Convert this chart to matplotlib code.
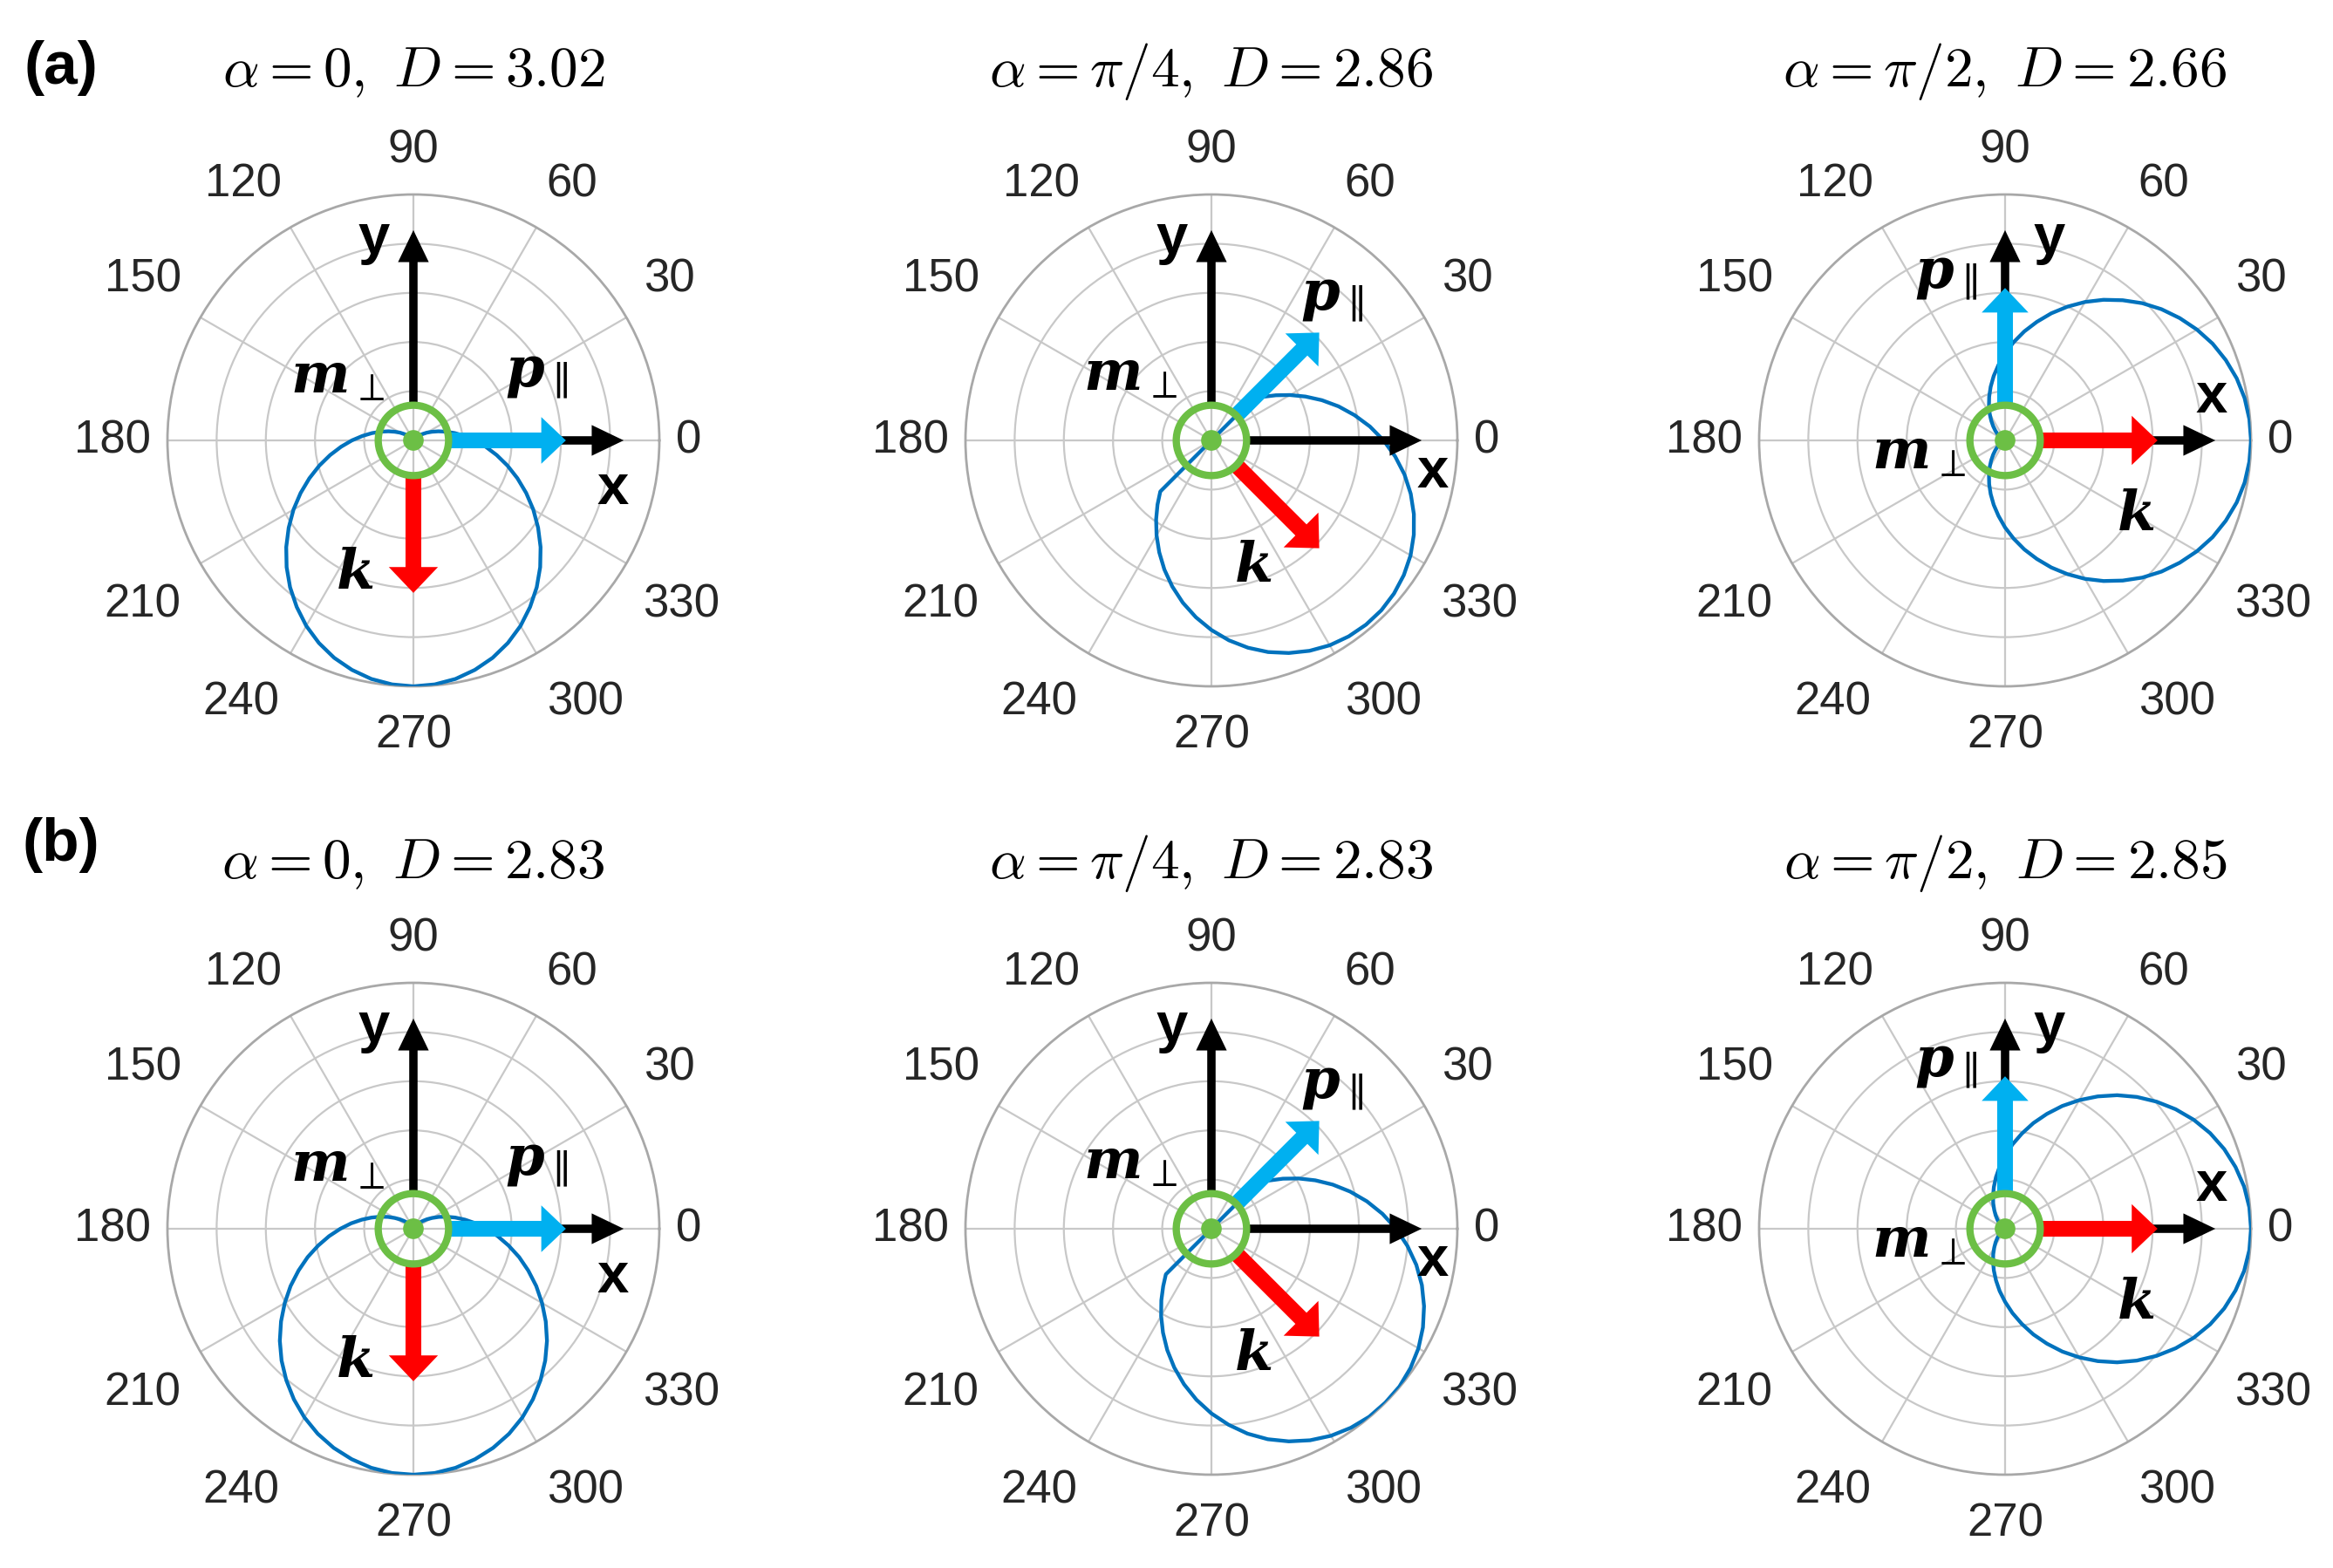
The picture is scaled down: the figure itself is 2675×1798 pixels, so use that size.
import numpy as np
import matplotlib
matplotlib.use("Agg")
import matplotlib.pyplot as plt
from matplotlib.patches import FancyArrow, Circle

plt.rcParams['mathtext.fontset'] = 'custom'
plt.rcParams['mathtext.it'] = 'DejaVu Serif:italic:bold'
plt.rcParams['mathtext.rm'] = 'DejaVu Serif'
plt.rcParams['mathtext.bf'] = 'DejaVu Serif:bold'

# ---------------- data ----------------
theta_deg = np.arange(0, 360, 5)

r_a1 = [0.250, 0.208, 0.171, 0.137, 0.108, 0.083, 0.063, 0.045, 0.032, 0.021, 0.014, 0.008, 0.004, 0.002, 0.001,
        0, 0, 0, 0, 0, 0, 0,
        0.001, 0.002, 0.004, 0.008, 0.014, 0.021, 0.032, 0.045, 0.063, 0.083, 0.108, 0.137, 0.171, 0.208,
        0.250, 0.295, 0.344, 0.396, 0.450, 0.506, 0.563, 0.619, 0.675, 0.729, 0.780, 0.827, 0.871, 0.909, 0.941,
        0.966, 0.985, 0.996,
        1.0,
        0.996, 0.985, 0.966, 0.941, 0.909, 0.871, 0.827, 0.780, 0.729, 0.675, 0.619, 0.563, 0.506, 0.450, 0.396,
        0.344, 0.295]

r_a2 = [0.700, 0.647, 0.591, 0.535, 0.478, 0.422, 0.369, 0.320, 0.276, 0.238,
        0, 0, 0, 0, 0, 0, 0, 0, 0, 0, 0, 0, 0, 0, 0, 0, 0, 0, 0, 0, 0, 0, 0, 0, 0, 0, 0, 0, 0, 0, 0, 0, 0, 0, 0,
        0.294, 0.341, 0.392, 0.446, 0.502, 0.559, 0.615, 0.670, 0.722, 0.771, 0.816, 0.856, 0.891, 0.920,
        0.944, 0.962, 0.973, 0.978, 0.977, 0.969, 0.955, 0.935, 0.908, 0.876, 0.839, 0.797, 0.750]

r_a3 = [1.0, 0.997, 0.989, 0.975, 0.955, 0.931, 0.901, 0.867, 0.830, 0.789, 0.744, 0.698, 0.650, 0.600, 0.550,
        0.499, 0.450, 0.401, 0.354, 0.308, 0.266, 0.226, 0.189, 0.155, 0.125, 0.098, 0.075, 0.056, 0.040, 0.027,
        0.017, 0.010, 0.005, 0.002, 0.001, 0, 0,
        0, 0.001, 0.002, 0.005, 0.010, 0.017, 0.027, 0.040, 0.056, 0.075, 0.098, 0.125, 0.155, 0.189, 0.226,
        0.266, 0.308, 0.354, 0.401, 0.450, 0.499, 0.550, 0.600, 0.650, 0.698, 0.744, 0.789, 0.830, 0.867, 0.901,
        0.931, 0.955, 0.975, 0.989, 0.997]

r_b1 = [0.297, 0.254, 0.213, 0.176, 0.143, 0.114, 0.088, 0.067, 0.049, 0.035, 0.023, 0.015, 0.009, 0.005, 0.002, 0.001,
        0, 0, 0, 0, 0,
        0.001, 0.002, 0.005, 0.009, 0.015, 0.023, 0.035, 0.049, 0.067, 0.088, 0.114, 0.143, 0.176, 0.213, 0.254,
        0.297, 0.344, 0.393, 0.445, 0.497, 0.551, 0.604, 0.657, 0.709, 0.758, 0.804, 0.847, 0.886, 0.920, 0.948,
        0.970, 0.987, 0.997,
        1.0,
        0.997, 0.987, 0.970, 0.948, 0.920, 0.886, 0.847, 0.804, 0.758, 0.709, 0.657, 0.604, 0.551, 0.497, 0.445,
        0.393, 0.344]

r_b2 = [0.751, 0.698, 0.642, 0.584, 0.525, 0.466, 0.409, 0.355, 0.305, 0.262,
        0, 0, 0, 0, 0, 0, 0, 0, 0, 0, 0, 0, 0, 0, 0, 0, 0, 0, 0, 0, 0, 0, 0, 0, 0, 0, 0, 0, 0, 0, 0, 0, 0, 0, 0,
        0.262, 0.305, 0.355, 0.409, 0.466, 0.525, 0.584, 0.642, 0.698, 0.751, 0.800, 0.846, 0.886, 0.920,
        0.949, 0.972, 0.988, 0.998, 1.0, 0.998, 0.988, 0.972, 0.949, 0.920, 0.886, 0.846, 0.800]

r_b3 = [1.0, 0.997, 0.987, 0.970, 0.948, 0.920, 0.886, 0.847, 0.804, 0.758, 0.709, 0.657, 0.604, 0.551, 0.497,
        0.445, 0.393, 0.344, 0.297, 0.254, 0.213, 0.176, 0.143, 0.114, 0.088, 0.067, 0.049, 0.035, 0.023, 0.015,
        0.009, 0.005, 0.002, 0.001, 0, 0, 0,
        0, 0, 0.001, 0.002, 0.005, 0.009, 0.015, 0.023, 0.035, 0.049, 0.067, 0.088, 0.114, 0.143, 0.176, 0.213,
        0.254, 0.297, 0.344, 0.393, 0.445, 0.497, 0.551, 0.604, 0.657, 0.709, 0.758, 0.804, 0.847, 0.886, 0.920,
        0.948, 0.970, 0.987, 0.997]

patterns = [[r_a1, r_a2, r_a3], [r_b1, r_b2, r_b3]]
alpha_labels = [r'0', r'\pi/4', r'\pi/2']
D_values = [[3.02, 2.86, 2.66], [2.83, 2.83, 2.85]]
p_dir_deg = [0, 45, 90]      # direction of p_parallel
k_dir_deg = [270, 315, 0]    # direction of k
row_labels = ['(a)', '(b)']
tick_angles = list(range(0, 360, 30))

# ---------------- layout ----------------
W, H = 2675, 1798
R = 282
cx = [474, 1389, 2299]
cy = [505, 1409]
title_y = [82, 990]
rowlab_y = [78, 969]

# angle tick label centres (units of R), MATLAB-like placement
tick_xy = {0: (1.12, 0.0), 30: (1.04, 0.655), 60: (0.645, 1.04), 90: (0.0, 1.18),
           120: (-0.69, 1.04), 150: (-1.10, 0.655), 180: (-1.225, 0.0), 210: (-1.10, -0.67),
           240: (-0.70, -1.065), 270: (0.0, -1.20), 300: (0.70, -1.065), 330: (1.09, -0.67)}

lab_pos = [  # per column: y, x, m, p, k label positions in units of R
    dict(y=(-0.16, 0.82), x=(0.81, -0.20), m=(-0.31, 0.26), p=(0.50, 0.27), k=(-0.24, -0.54)),
    dict(y=(-0.16, 0.82), x=(0.90, -0.13), m=(-0.33, 0.27), p=(0.49, 0.58), k=(0.17, -0.51)),
    dict(y=(0.18, 0.82), x=(0.84, 0.175), m=(-0.35, -0.05), p=(-0.24, 0.67), k=(0.53, -0.30)),
]

fig = plt.figure(figsize=(W / 100, H / 100), dpi=100)

BLUE_LINE = '#0072BD'
CYAN = '#00B0F0'
RED = '#FF0000'
GREEN = '#6CBF45'
TICK_COLOR = '#262626'


def arrow(ax, ang, r0, r1, color, shaft, hw, hl, z):
    a = np.deg2rad(ang)
    x0, y0 = r0 * np.cos(a), r0 * np.sin(a)
    dx, dy = (r1 - r0) * np.cos(a), (r1 - r0) * np.sin(a)
    ax.add_patch(FancyArrow(x0, y0, dx, dy, width=shaft, head_width=hw, head_length=hl,
                            length_includes_head=True, color=color, lw=0, zorder=z))


for i in range(2):
    for j in range(3):
        rect = [(cx[j] - R) / W, (H - cy[i] - R) / H, 2 * R / W, 2 * R / H]
        ax = fig.add_axes(rect, projection='polar', label=f'polar{i}{j}')
        ax.set_ylim(0, 1)
        ax.set_yticks([0.2, 0.4, 0.6, 0.8])
        ax.set_yticklabels([])
        ax.set_xticks(np.deg2rad(tick_angles))
        ax.set_xticklabels([])
        ax.tick_params(length=0)
        ax.grid(True, color='#c8c8c8', lw=1.6)
        ax.spines['polar'].set_color('#a8a8a8')
        ax.spines['polar'].set_linewidth(2.0)
        r = patterns[i][j]
        th = np.deg2rad(theta_deg)
        ax.plot(np.append(th, th[0]), np.append(r, r[0]), color=BLUE_LINE, lw=3.1, zorder=3,
                solid_joinstyle='round')

        ov = fig.add_axes(rect, label=f'ov{i}{j}')
        ov.set_xlim(-1, 1)
        ov.set_ylim(-1, 1)
        ov.axis('off')

        # tick labels
        for a in tick_angles:
            tx, ty = tick_xy[a]
            ov.text(tx, ty, str(a), ha='center', va='center',
                    fontsize=38, family='Liberation Sans', color=TICK_COLOR)

        # axis arrows (black)
        arrow(ov, 0, 0.15, 0.855, 'black', 0.034, 0.125, 0.13, 4)
        arrow(ov, 90, 0.15, 0.855, 'black', 0.034, 0.125, 0.13, 4)
        # dipole / wave-vector arrows
        arrow(ov, p_dir_deg[j], 0.14, 0.62, CYAN, 0.064, 0.19, 0.10, 5)
        arrow(ov, k_dir_deg[j], 0.14, 0.62, RED, 0.064, 0.20, 0.105, 5)
        # green ring (m_perp out of plane)
        ov.add_patch(Circle((0, 0), 0.143, fill=False, ec=GREEN, lw=6.0, zorder=6))
        ov.add_patch(Circle((0, 0), 0.042, fc=GREEN, ec='none', zorder=7))

        L = lab_pos[j]
        ov.text(*L['y'], 'y', ha='center', va='center', fontsize=47, fontweight='bold',
                family='Liberation Sans', zorder=8)
        ov.text(*L['x'], 'x', ha='center', va='center', fontsize=47, fontweight='bold',
                family='Liberation Sans', zorder=8)
        ov.text(*L['m'], r'$m_{\perp}$', ha='center', va='center', fontsize=46, zorder=8)
        ov.text(*L['p'], r'$p_{\parallel}$', ha='center', va='center', fontsize=46, zorder=8)
        ov.text(*L['k'], r'$k$', ha='center', va='center', fontsize=46, zorder=8)

        title = r'$\alpha = %s,\ D = %.2f$' % (alpha_labels[j], D_values[i][j])
        fig.text(cx[j] / W, 1 - title_y[i] / H, title, ha='center', va='center',
                 fontsize=47, math_fontfamily='cm')

    fig.text(70 / W, 1 - rowlab_y[i] / H, row_labels[i], ha='center', va='center',
             fontsize=50, fontweight='bold', family='Liberation Sans')

fig.savefig('out.png', dpi=100, facecolor='white')
